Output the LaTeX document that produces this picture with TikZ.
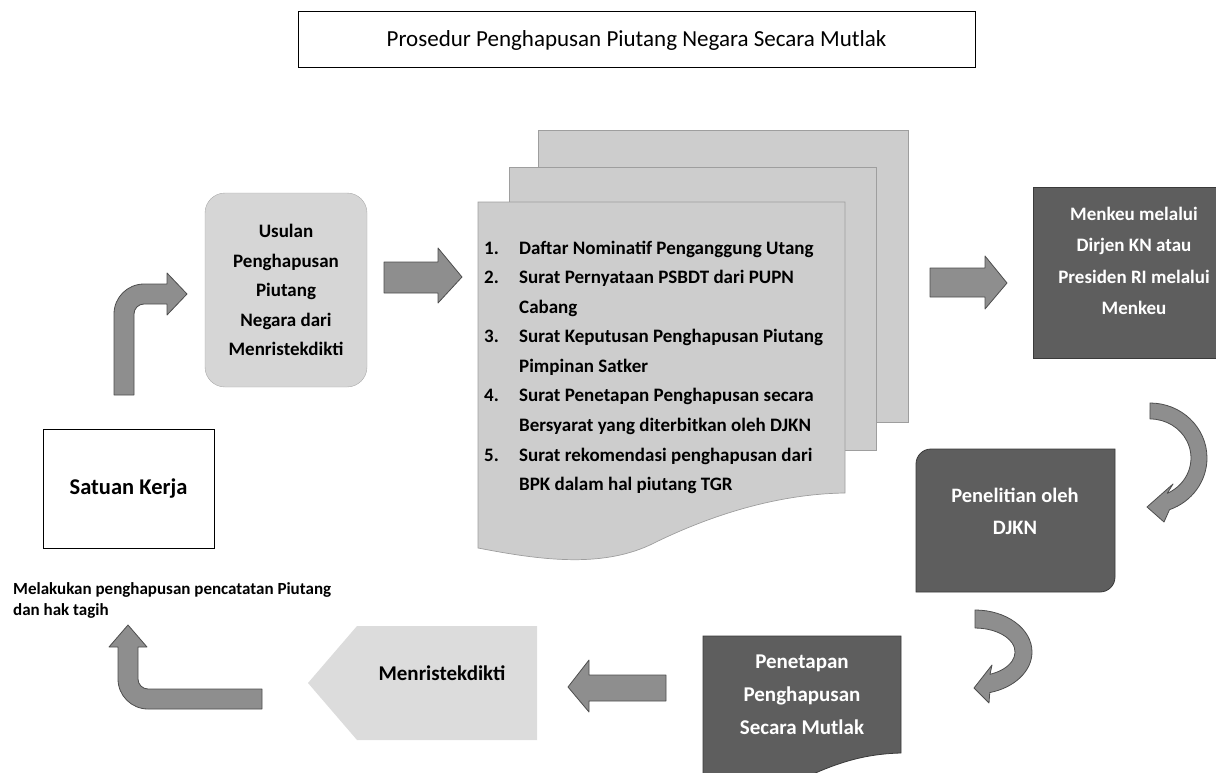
\documentclass[tikz,border=0pt]{standalone}
\usepackage{fontspec}
\setmainfont{Carlito}
\definecolor{lightfill}{HTML}{D6D6D6}
\definecolor{pentfill}{HTML}{DCDCDC}
\definecolor{docfill}{HTML}{CDCDCD}
\definecolor{docedge}{HTML}{9E9E9E}
\definecolor{arrfill}{HTML}{8E8E8E}
\definecolor{arredge}{HTML}{4D4D4D}
\definecolor{darkfill}{HTML}{5E5E5E}
\definecolor{darkedge}{HTML}{3A3A3A}
\newcommand\myfs[2]{\fontsize{#1}{#2}\selectfont}
\begin{document}
\begin{tikzpicture}[x=1pt,y=-1pt,
  arr/.style={fill=arrfill, draw=arredge, line width=0.8pt, line join=round},
  darkbox/.style={fill=darkfill, draw=darkedge, line width=0.8pt},
  docsheet/.style={fill=docfill, draw=docedge, line width=0.7pt},
  whitetext/.style={text=white, align=center, inner sep=0pt},
  blacktext/.style={text=black, align=center, inner sep=0pt},
  plainbox/.style={draw=black, line width=1pt, fill=white, inner sep=0pt}]
\useasboundingbox (0,0) rectangle (1216,773);
\clip (0,0) rectangle (1216,773);

% title
\node[plainbox, minimum width=677pt, minimum height=56pt, font=\myfs{23}{27}] (title) at (636.5,40)
  {Prosedur Penghapusan Piutang Negara Secara Mutlak};

% Satuan Kerja
\node[plainbox, minimum width=171pt, minimum height=119pt, font=\myfs{22.5}{26}\bfseries] (satker) at (128.5,488.5)
  {Satuan Kerja};

\node[anchor=west, align=left, inner sep=0pt, font=\myfs{17}{21}\bfseries] (melakukan) at (13,600.5)
  {Melakukan penghapusan pencatatan Piutang\\dan hak tagih};

% Usulan
\node[fill=lightfill, draw=lightfill!80!black, line width=0.4pt, rounded corners=20pt,
      minimum width=162pt, minimum height=194pt, blacktext, font=\myfs{19}{29.5}\bfseries] (usulan) at (286,290)
  {Usulan\\Penghapusan\\Piutang\\Negara dari\\Menristekdikti};

% bent arrow up-right
\path[arr] (114,395) -- (114,314) arc[start angle=180,end angle=270,radius=30]
  -- (167,284) -- (167,273) -- (187,294) -- (167,315) -- (167,304) -- (144,304)
  arc[start angle=270,end angle=180,radius=10] -- (134,395) -- cycle;

% arrow usulan -> docs
\path[arr] (384,262) -- (438,262) -- (438,248) -- (462,277) -- (438,303) -- (438,293) -- (384,293) -- cycle;

% document stack
\path[docsheet] (538,130) rectangle (908,422);
\path[docsheet] (509,167) rectangle (876,450);
\path[docsheet] (478,202) -- (845,202) -- (845,493)
  .. controls (770,494) and (700,520) .. (650,545)
  .. controls (600,568) and (540,560) .. (478,548) -- cycle;
\node[anchor=base west, inner sep=0pt, font=\myfs{19}{29.6}\bfseries] (docs) at (484,254)
  {\begin{tabular}[t]{@{}p{35pt}@{}l@{}}
  1. & Daftar Nominatif Penganggung Utang\\
  2. & Surat Pernyataan PSBDT dari PUPN\\
     & Cabang\\
  3. & Surat Keputusan Penghapusan Piutang\\
     & Pimpinan Satker\\
  4. & Surat Penetapan Penghapusan secara\\
     & Bersyarat yang diterbitkan oleh DJKN\\
  5. & Surat rekomendasi penghapusan dari\\
     & BPK dalam hal piutang TGR
  \end{tabular}};

% arrow docs -> menkeu
\path[arr] (930,268) -- (985,268) -- (985,256) -- (1007,283) -- (985,309) -- (985,297) -- (930,297) -- cycle;

% Menkeu
\path[darkbox] (1033,187) rectangle (1236,358);
\node[whitetext, font=\myfs{19}{31.5}\bfseries] (menkeu) at (1134,261)
  {Menkeu melalui\\Dirjen KN atau\\Presiden RI melalui\\Menkeu};

% curved arrow 1
\path[arr] (1150,403) arc[start angle=-90,end angle=70,x radius=57,y radius=55]
  -- (1164,522) -- (1147,507) -- (1173,484) -- (1167.3,493.3)
  arc[start angle=65,end angle=-90,x radius=41,y radius=39] -- cycle;

% Penelitian
\path[darkbox] (916,592) -- (916,464) arc[start angle=180,end angle=270,radius=15]
  -- (1115,449) -- (1115,577) arc[start angle=0,end angle=90,radius=15] -- cycle;
\node[whitetext, font=\myfs{20.5}{32}\bfseries] (penelitian) at (1015,511)
  {Penelitian oleh\\DJKN};

% curved arrow 2
\path[arr] (975,610) arc[start angle=-90,end angle=75,x radius=57,y radius=42]
  -- (989,703) -- (974,688) -- (992,665) -- (990,674.3)
  arc[start angle=68,end angle=-90,x radius=40,y radius=24] -- cycle;

% Penetapan
\path[darkbox] (703,636) -- (901,636) -- (901,753)
  .. controls (860,754) and (830,765) .. (790,785)
  .. controls (760,800) and (730,800) .. (703,795) -- cycle;
\node[whitetext, font=\myfs{21}{33}\bfseries] (penetapan) at (802,695)
  {Penetapan\\Penghapusan\\Secara Mutlak};

% arrow penetapan -> menristekdikti
\path[arr] (666,675) -- (589,675) -- (589,660) -- (568,687) -- (589,712) -- (589,701) -- (666,701) -- cycle;

% Menristekdikti pentagon
\path[fill=pentfill] (308,683) -- (357,626) -- (537,626) -- (537,740) -- (357,740) -- cycle;
\node[blacktext, font=\myfs{21}{25}\bfseries] (menristek) at (442,673) {Menristekdikti};

% bent arrow up-left
\path[arr] (262,689) -- (148,689) arc[start angle=90,end angle=180,radius=10]
  -- (138,647) -- (147,647) -- (128,625) -- (109,647) -- (118,647) -- (118,679)
  arc[start angle=180,end angle=90,radius=30] -- (262,709) -- cycle;
\end{tikzpicture}
\end{document}
